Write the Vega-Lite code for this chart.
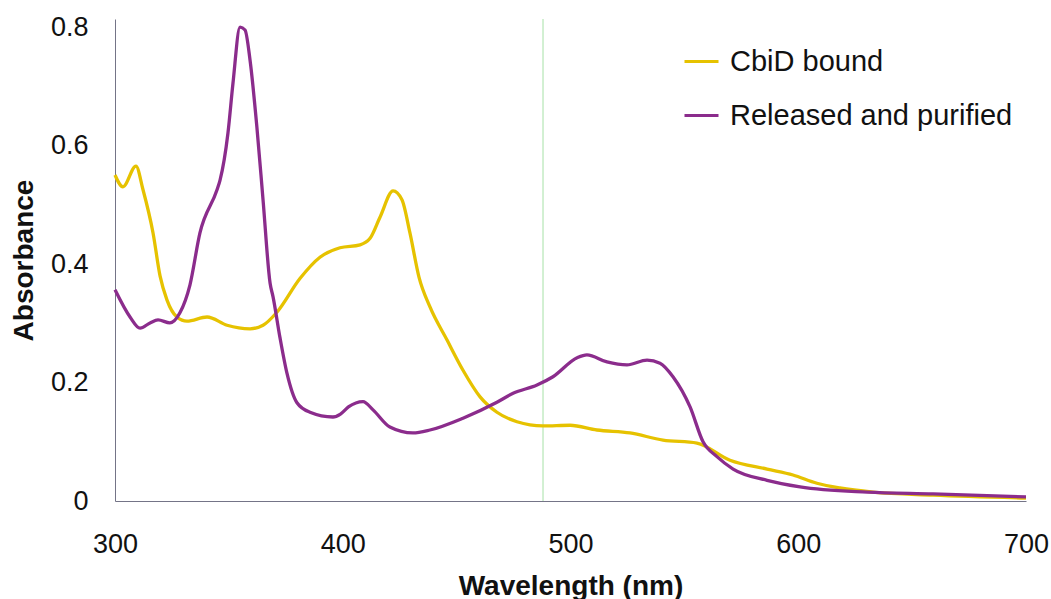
{
  "$schema": "https://vega.github.io/schema/vega-lite/v6.json",
  "width": 911,
  "height": 482,
  "autosize": "none",
  "padding": {"left": 115, "top": 19, "right": 25, "bottom": 98},
  "background": "white",
  "config": {
    "view": {"stroke": null},
    "font": "Liberation Sans"
  },
  "data": {
    "values": [
      {"wavelength": 300.0, "absorbance": 0.551, "series": "CbiD bound"},
      {"wavelength": 303.5, "absorbance": 0.531, "series": "CbiD bound"},
      {"wavelength": 309.2, "absorbance": 0.566, "series": "CbiD bound"},
      {"wavelength": 312.3, "absorbance": 0.526, "series": "CbiD bound"},
      {"wavelength": 316.7, "absorbance": 0.453, "series": "CbiD bound"},
      {"wavelength": 319.8, "absorbance": 0.38, "series": "CbiD bound"},
      {"wavelength": 322.8, "absorbance": 0.34, "series": "CbiD bound"},
      {"wavelength": 327.2, "absorbance": 0.311, "series": "CbiD bound"},
      {"wavelength": 331.6, "absorbance": 0.304, "series": "CbiD bound"},
      {"wavelength": 340.4, "absorbance": 0.311, "series": "CbiD bound"},
      {"wavelength": 349.2, "absorbance": 0.297, "series": "CbiD bound"},
      {"wavelength": 359.3, "absorbance": 0.291, "series": "CbiD bound"},
      {"wavelength": 365.0, "absorbance": 0.297, "series": "CbiD bound"},
      {"wavelength": 371.1, "absorbance": 0.319, "series": "CbiD bound"},
      {"wavelength": 381.2, "absorbance": 0.376, "series": "CbiD bound"},
      {"wavelength": 390.0, "absorbance": 0.412, "series": "CbiD bound"},
      {"wavelength": 398.8, "absorbance": 0.428, "series": "CbiD bound"},
      {"wavelength": 407.6, "absorbance": 0.433, "series": "CbiD bound"},
      {"wavelength": 412.0, "absorbance": 0.444, "series": "CbiD bound"},
      {"wavelength": 416.4, "absorbance": 0.48, "series": "CbiD bound"},
      {"wavelength": 422.1, "absorbance": 0.524, "series": "CbiD bound"},
      {"wavelength": 426.0, "absorbance": 0.509, "series": "CbiD bound"},
      {"wavelength": 429.5, "absorbance": 0.453, "series": "CbiD bound"},
      {"wavelength": 433.5, "absorbance": 0.378, "series": "CbiD bound"},
      {"wavelength": 438.3, "absorbance": 0.328, "series": "CbiD bound"},
      {"wavelength": 445.8, "absorbance": 0.272, "series": "CbiD bound"},
      {"wavelength": 452.8, "absorbance": 0.221, "series": "CbiD bound"},
      {"wavelength": 460.3, "absorbance": 0.176, "series": "CbiD bound"},
      {"wavelength": 467.7, "absorbance": 0.15, "series": "CbiD bound"},
      {"wavelength": 476.5, "absorbance": 0.134, "series": "CbiD bound"},
      {"wavelength": 487.9, "absorbance": 0.127, "series": "CbiD bound"},
      {"wavelength": 499.8, "absorbance": 0.128, "series": "CbiD bound"},
      {"wavelength": 511.6, "absorbance": 0.12, "series": "CbiD bound"},
      {"wavelength": 526.1, "absorbance": 0.115, "series": "CbiD bound"},
      {"wavelength": 540.6, "absorbance": 0.103, "series": "CbiD bound"},
      {"wavelength": 555.5, "absorbance": 0.098, "series": "CbiD bound"},
      {"wavelength": 570.0, "absorbance": 0.069, "series": "CbiD bound"},
      {"wavelength": 586.3, "absorbance": 0.054, "series": "CbiD bound"},
      {"wavelength": 597.7, "absorbance": 0.044, "series": "CbiD bound"},
      {"wavelength": 608.2, "absorbance": 0.03, "series": "CbiD bound"},
      {"wavelength": 618.3, "absorbance": 0.022, "series": "CbiD bound"},
      {"wavelength": 632.8, "absorbance": 0.015, "series": "CbiD bound"},
      {"wavelength": 659.2, "absorbance": 0.01, "series": "CbiD bound"},
      {"wavelength": 700.0, "absorbance": 0.005, "series": "CbiD bound"},
      {"wavelength": 300.0, "absorbance": 0.357, "series": "Released and purified"},
      {"wavelength": 306.6, "absorbance": 0.311, "series": "Released and purified"},
      {"wavelength": 311.0, "absorbance": 0.292, "series": "Released and purified"},
      {"wavelength": 315.4, "absorbance": 0.301, "series": "Released and purified"},
      {"wavelength": 318.9, "absorbance": 0.306, "series": "Released and purified"},
      {"wavelength": 324.1, "absorbance": 0.301, "series": "Released and purified"},
      {"wavelength": 328.5, "absorbance": 0.318, "series": "Released and purified"},
      {"wavelength": 332.9, "absorbance": 0.365, "series": "Released and purified"},
      {"wavelength": 337.3, "absorbance": 0.453, "series": "Released and purified"},
      {"wavelength": 344.8, "absorbance": 0.526, "series": "Released and purified"},
      {"wavelength": 346.1, "absorbance": 0.542, "series": "Released and purified"},
      {"wavelength": 349.6, "absorbance": 0.622, "series": "Released and purified"},
      {"wavelength": 351.8, "absorbance": 0.706, "series": "Released and purified"},
      {"wavelength": 354.9, "absorbance": 0.801, "series": "Released and purified"},
      {"wavelength": 357.1, "absorbance": 0.796, "series": "Released and purified"},
      {"wavelength": 359.3, "absorbance": 0.745, "series": "Released and purified"},
      {"wavelength": 362.3, "absorbance": 0.632, "series": "Released and purified"},
      {"wavelength": 365.0, "absorbance": 0.509, "series": "Released and purified"},
      {"wavelength": 368.1, "absorbance": 0.368, "series": "Released and purified"},
      {"wavelength": 369.4, "absorbance": 0.345, "series": "Released and purified"},
      {"wavelength": 372.4, "absorbance": 0.277, "series": "Released and purified"},
      {"wavelength": 375.5, "absorbance": 0.216, "series": "Released and purified"},
      {"wavelength": 379.9, "absorbance": 0.166, "series": "Released and purified"},
      {"wavelength": 385.6, "absorbance": 0.15, "series": "Released and purified"},
      {"wavelength": 395.7, "absorbance": 0.142, "series": "Released and purified"},
      {"wavelength": 399.0, "absorbance": 0.147, "series": "Released and purified"},
      {"wavelength": 402.5, "absorbance": 0.159, "series": "Released and purified"},
      {"wavelength": 408.9, "absorbance": 0.168, "series": "Released and purified"},
      {"wavelength": 413.3, "absorbance": 0.154, "series": "Released and purified"},
      {"wavelength": 420.7, "absorbance": 0.125, "series": "Released and purified"},
      {"wavelength": 430.8, "absorbance": 0.115, "series": "Released and purified"},
      {"wavelength": 438.3, "absorbance": 0.12, "series": "Released and purified"},
      {"wavelength": 452.8, "absorbance": 0.14, "series": "Released and purified"},
      {"wavelength": 467.7, "absorbance": 0.167, "series": "Released and purified"},
      {"wavelength": 474.8, "absorbance": 0.182, "series": "Released and purified"},
      {"wavelength": 485.3, "absorbance": 0.196, "series": "Released and purified"},
      {"wavelength": 492.3, "absorbance": 0.21, "series": "Released and purified"},
      {"wavelength": 502.9, "absorbance": 0.242, "series": "Released and purified"},
      {"wavelength": 507.2, "absorbance": 0.247, "series": "Released and purified"},
      {"wavelength": 516.0, "absorbance": 0.235, "series": "Released and purified"},
      {"wavelength": 524.8, "absorbance": 0.23, "series": "Released and purified"},
      {"wavelength": 533.6, "absorbance": 0.238, "series": "Released and purified"},
      {"wavelength": 539.3, "absorbance": 0.233, "series": "Released and purified"},
      {"wavelength": 545.0, "absorbance": 0.21, "series": "Released and purified"},
      {"wavelength": 552.5, "absorbance": 0.159, "series": "Released and purified"},
      {"wavelength": 558.2, "absorbance": 0.1, "series": "Released and purified"},
      {"wavelength": 564.3, "absorbance": 0.075, "series": "Released and purified"},
      {"wavelength": 571.4, "absorbance": 0.054, "series": "Released and purified"},
      {"wavelength": 586.3, "absorbance": 0.035, "series": "Released and purified"},
      {"wavelength": 600.8, "absorbance": 0.024, "series": "Released and purified"},
      {"wavelength": 630.2, "absorbance": 0.015, "series": "Released and purified"},
      {"wavelength": 659.2, "absorbance": 0.012, "series": "Released and purified"},
      {"wavelength": 700.0, "absorbance": 0.007, "series": "Released and purified"}
    ]
  },
  "layer": [
    {
      "mark": {"type": "rule", "color": "#d2efd2", "strokeWidth": 1},
      "encoding": {
        "x": {"datum": 488, "type": "quantitative", "scale": {"domain": [300, 700], "nice": false, "zero": false}}
      }
    },
    {
      "mark": {"type": "line", "strokeWidth": 3.3, "interpolate": "monotone"},
      "encoding": {
        "x": {
          "field": "wavelength",
          "type": "quantitative",
          "scale": {"domain": [300, 700], "nice": false, "zero": false},
          "axis": {
            "title": "Wavelength (nm)",
            "values": [300, 400, 500, 600, 700],
            "grid": false,
            "ticks": false,
            "domainColor": "#747487",
            "domainWidth": 1,
            "labelFont": "Liberation Sans",
            "labelFontSize": 27,
            "labelColor": "#111111",
            "labelPadding": 30,
            "labelFlush": false,
            "titleFont": "Liberation Sans",
            "titleFontSize": 28,
            "titleFontWeight": "bold",
            "titleColor": "#111111",
            "titlePadding": 15
          }
        },
        "y": {
          "field": "absorbance",
          "type": "quantitative",
          "scale": {"domain": [0, 0.8146], "nice": false},
          "axis": {
            "title": "Absorbance",
            "values": [0, 0.2, 0.4, 0.6, 0.8],
            "format": "~g",
            "grid": false,
            "ticks": false,
            "domainColor": "#747487",
            "domainWidth": 1,
            "labelFont": "Liberation Sans",
            "labelFontSize": 27,
            "labelColor": "#111111",
            "labelPadding": 27,
            "labelFlush": false,
            "titleFont": "Liberation Sans",
            "titleFontSize": 28,
            "titleFontWeight": "bold",
            "titleColor": "#111111",
            "titlePadding": 12
          }
        },
        "color": {
          "field": "series",
          "type": "nominal",
          "scale": {
            "domain": ["CbiD bound", "Released and purified"],
            "range": ["#E6C200", "#8B2C8C"]
          },
          "legend": {
            "title": null,
            "orient": "none",
            "legendX": 568,
            "legendY": 24,
            "padding": 0,
            "symbolType": "stroke",
            "symbolSize": 1156,
            "symbolStrokeWidth": 3,
            "labelFont": "Liberation Sans",
            "labelFontSize": 29,
            "labelColor": "#111111",
            "labelOffset": 10,
            "rowPadding": 20,
            "labelLimit": 400
          }
        }
      }
    }
  ]
}
